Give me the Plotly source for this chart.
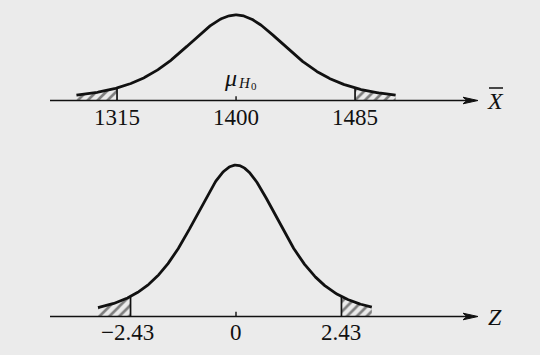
import numpy as np
import plotly.graph_objects as go

W, H = 540, 355

# ---- data ----
x_center = 1400
x_ticks = [1315, 1400, 1485]
x_tick_labels = ["1315", "1400", "1485"]
x_curve_span = [1286, 1514]
x_shape_scale = 39.0

z_center = 0
z_ticks = [-2.43, 0, 2.43]
z_tick_labels = ["\u22122.43", "0", "2.43"]
z_curve_span = [-3.18, 3.13]
z_shape_scale = 1.08

bell_df = 4  # heavy-tailed bell sketch


def bell(v, c, a):
    u = (np.asarray(v) - c) / a
    return (1 + u ** 2 / bell_df) ** (-(bell_df + 1) / 2)


# axis ranges (data units across the full canvas)
X_RANGE = [1231.4, 1617.1]
Y1_RANGE = [-3.0, 1.176]
Z_RANGE = [-5.438, 7.005]
Y2_RANGE = [-0.258, 2.093]

fig = go.Figure()

LINE = dict(color="#111111", width=2.8)


def add_panel(xref, yref, c, a, span, lo, hi):
    xs = np.linspace(span[0], span[1], 400)
    for t0, t1 in [(span[0], lo), (hi, span[1])]:
        tx = np.linspace(t0, t1, 80)
        ty = bell(tx, c, a)
        px = np.concatenate([[t0], tx, [t1]])
        py = np.concatenate([[0], ty, [0]])
        fig.add_trace(go.Scatter(
            x=px, y=py, xaxis=xref, yaxis=yref, mode="lines",
            line=dict(width=0), fill="toself", fillcolor="rgba(0,0,0,0)",
            fillpattern=dict(shape="/", fgcolor="#111111", bgcolor="rgba(0,0,0,0)",
                             size=7, solidity=0.38),
            hoverinfo="skip", showlegend=False))
    for b in [lo, hi]:
        fig.add_trace(go.Scatter(
            x=[b, b], y=[0, bell(b, c, a)], xaxis=xref, yaxis=yref, mode="lines",
            line=dict(color="#111111", width=1.7), hoverinfo="skip", showlegend=False))
    fig.add_trace(go.Scatter(
        x=xs, y=bell(xs, c, a), xaxis=xref, yaxis=yref, mode="lines",
        line=LINE, hoverinfo="skip", showlegend=False))
    fig.add_trace(go.Scatter(
        x=[c, c], y=[0, 0.045 if xref == "x" else 0.028], xaxis=xref, yaxis=yref,
        mode="lines", line=dict(color="#111111", width=1.4),
        hoverinfo="skip", showlegend=False))


add_panel("x", "y", x_center, x_shape_scale, x_curve_span, x_ticks[0], x_ticks[2])
add_panel("x2", "y2", z_center, z_shape_scale, z_curve_span, z_ticks[0], z_ticks[2])


def P(xp, yp):
    return xp / W, 1 - yp / H


def label(x, y, text, size, xref="paper"):
    return dict(x=x, y=y, xref=xref, yref="paper", text=text, showarrow=False,
                xanchor="center", yanchor="middle",
                font=dict(family="Liberation Serif", size=size, color="#111111"))


shapes = []
annotations = []
for ay, lab in [(100.5, "<i>X</i>"), (316.5, "<i>Z</i>")]:
    x0, y0 = P(50, ay)
    x1, y1 = P(470, ay)
    shapes.append(dict(type="line", xref="paper", yref="paper", x0=x0, y0=y0,
                       x1=x1, y1=y1, line=dict(color="#111111", width=1.7)))
    a = P(478, ay)
    b = P(463, ay - 3.3)
    d = P(463, ay + 3.3)
    e = P(467, ay)
    shapes.append(dict(type="path", xref="paper", yref="paper",
                       path=f"M{a[0]},{a[1]} L{b[0]},{b[1]} L{e[0]},{e[1]} L{d[0]},{d[1]} Z",
                       fillcolor="#111111", line=dict(color="#111111", width=1)))
    lx, ly = P(495, ay)
    annotations.append(label(lx, ly, lab, 24))

# overline on X
o0 = P(489, 88)
o1 = P(503, 88)
shapes.append(dict(type="line", xref="paper", yref="paper", x0=o0[0], y0=o0[1],
                   x1=o1[0], y1=o1[1], line=dict(color="#111111", width=1.5)))

for v, t in zip(x_ticks, x_tick_labels):
    annotations.append(label(v, P(0, 117)[1], t, 23, xref="x"))
for v, t in zip(z_ticks, z_tick_labels):
    ann = label(v, P(0, 332)[1], t, 23, xref="x2")
    if v < 0:
        ann["xshift"] = -3
    annotations.append(ann)

# mu_{H_0}
mx, my = P(230.5, 78)
annotations.append(label(mx, my, "<i>μ</i>", 24))
hx, hy = P(244, 83)
annotations.append(label(hx, hy, "<i>H</i>", 15))
zx, zy = P(253.5, 86)
annotations.append(label(zx, zy, "0", 11))

ax_common = dict(visible=False, showgrid=False, zeroline=False, fixedrange=True)
fig.update_layout(
    width=W, height=H, margin=dict(l=0, r=0, t=0, b=0),
    paper_bgcolor="#ebebeb", plot_bgcolor="rgba(0,0,0,0)",
    xaxis=dict(range=X_RANGE, domain=[0, 1], **ax_common),
    yaxis=dict(range=Y1_RANGE, domain=[0, 1], **ax_common),
    xaxis2=dict(range=Z_RANGE, domain=[0, 1], anchor="y2", overlaying="x", **ax_common),
    yaxis2=dict(range=Y2_RANGE, domain=[0, 1], anchor="x2", overlaying="y", **ax_common),
    shapes=shapes, annotations=annotations, showlegend=False,
)

fig.write_html("out.html")
